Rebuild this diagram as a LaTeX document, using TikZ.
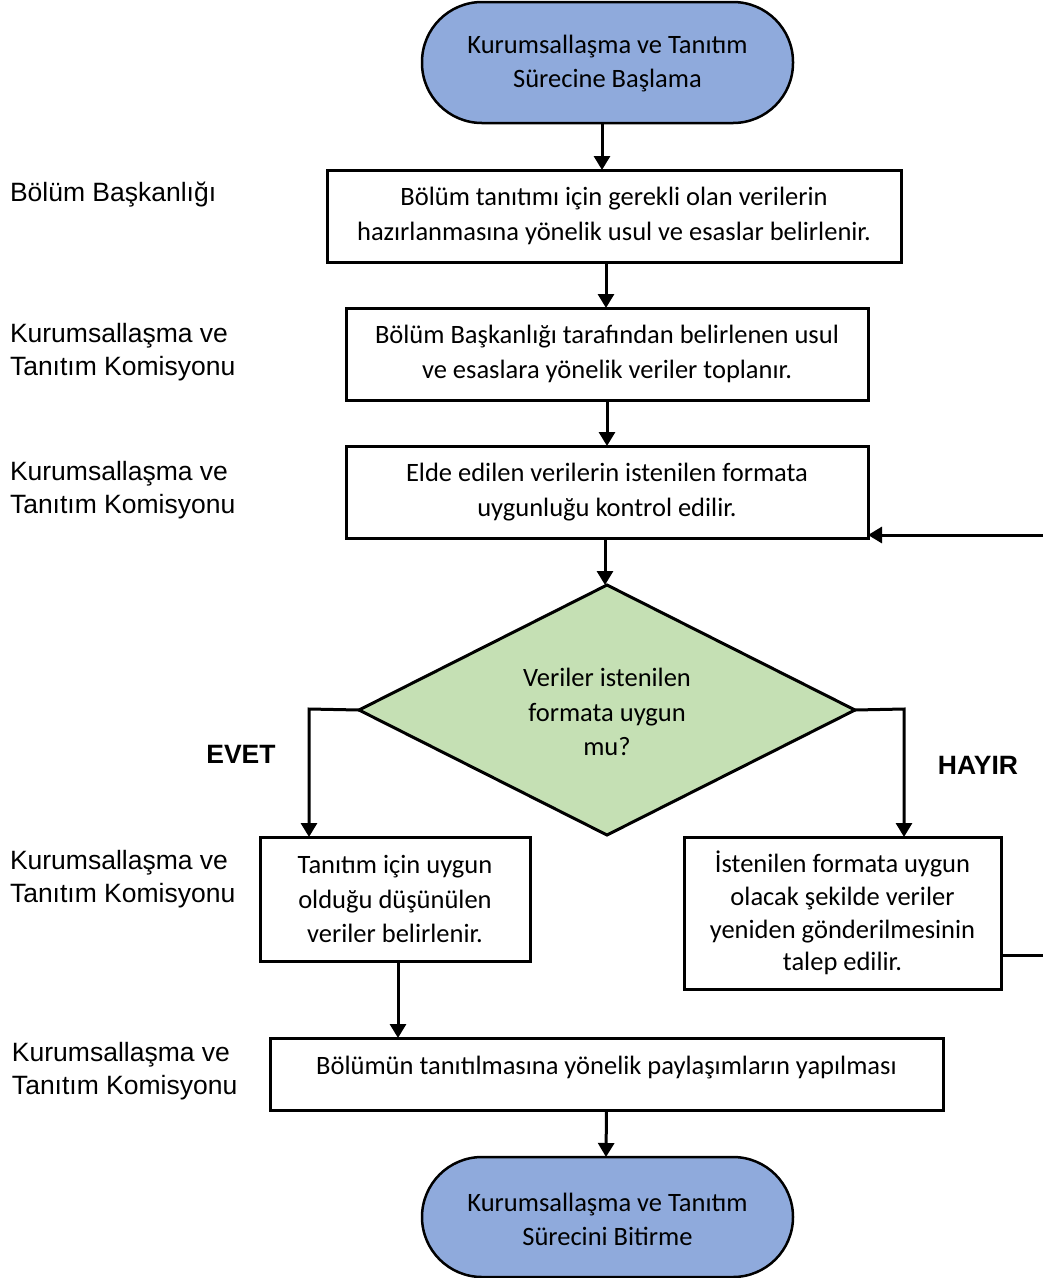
\documentclass[tikz,border=0pt]{standalone}
\usepackage{fontspec}
\setmainfont{Carlito}
\newfontfamily\arialfont{Liberation Sans}
\usetikzlibrary{shapes.geometric,arrows.meta,calc}
\definecolor{termblue}{HTML}{8FAADC}
\definecolor{decgreen}{HTML}{C5E0B4}
\begin{document}
\begin{tikzpicture}[x=1pt,y=-1pt,
  every node/.style={inner sep=0pt,outer sep=0pt},
  proc/.style={draw,line width=3pt,fill=white,align=center,font=\fontsize{26.5}{34.5}\selectfont},
  term/.style={draw,line width=2.5pt,fill=termblue,rounded corners=60pt,align=center,font=\fontsize{26.5}{34}\selectfont},
  lbl/.style={anchor=west,align=left,font=\arialfont\fontsize{26.5}{33}\selectfont},
  yn/.style={font=\arialfont\bfseries\fontsize{26.5}{33}\selectfont},
  conn/.style={line width=3pt,-{Triangle[length=14pt,width=16pt]}},
  plain/.style={line width=3pt}]
\useasboundingbox (0,0) rectangle (1043,1278);
% terminators
\draw[term] (422,2) rectangle (793,123);
\node[align=center,font=\fontsize{26.5}{34}\selectfont] (start) at (607.5,64) {Kurumsallaşma ve Tanıtım\\Sürecine Başlama};
\coordinate (startS) at (602,123);
\draw[term] (422,1157) rectangle (793,1277);
\node[align=center,font=\fontsize{26.5}{34}\selectfont] (end) at (607.5,1219) {Kurumsallaşma ve Tanıtım\\Sürecini Bitirme};
\coordinate (endN) at (606,1157);
% process boxes
\node[proc,minimum width=574pt,minimum height=92pt] (b1) at (614,216) {Bölüm tanıtımı için gerekli olan verilerin\\hazırlanmasına yönelik usul ve esaslar belirlenir.};
\node[proc,minimum width=522pt,minimum height=92pt] (b2) at (607,354) {Bölüm Başkanlığı tarafından belirlenen usul\\ve esaslara yönelik veriler toplanır.};
\node[proc,minimum width=522pt,minimum height=92pt] (b3) at (607,492) {Elde edilen verilerin istenilen formata\\uygunluğu kontrol edilir.};
\node[draw,line width=3pt,fill=decgreen,diamond,minimum width=496pt,minimum height=250pt,aspect=1.98] (d) at (607,710) {};
\node[align=center,font=\fontsize{26.5}{34.5}\selectfont] (dt) at (607,712) {Veriler istenilen\\formata uygun\\mu?};
\node[proc,minimum width=270pt,minimum height=124pt] (bl) at (395,899) {Tanıtım için uygun\\olduğu düşünülen\\veriler belirlenir.};
\node[proc,minimum width=317pt,minimum height=152pt,font=\fontsize{26.5}{32.7}\selectfont] (br) at (842.5,913) {İstenilen formata uygun\\olacak şekilde veriler\\yeniden gönderilmesinin\\talep edilir.};
\node[proc,minimum width=673pt,minimum height=72pt] (bf) at (606.5,1074) {\raisebox{6pt}[\height][\depth]{Bölümün tanıtılmasına yönelik paylaşımların yapılması}};
% left labels
\node[lbl] (l1) at (10,195) {Bölüm Başkanlığı};
\node[lbl] (l2) at (10,352) {Kurumsallaşma ve\\Tanıtım Komisyonu};
\node[lbl] (l3) at (10,490) {Kurumsallaşma ve\\Tanıtım Komisyonu};
\node[lbl] (l4) at (10,879) {Kurumsallaşma ve\\Tanıtım Komisyonu};
\node[lbl] (l5) at (12,1071) {Kurumsallaşma ve\\Tanıtım Komisyonu};
\node[yn] (evet) at (241,754) {EVET};
\node[yn] (hayir) at (978,765) {HAYIR};
% connectors
\draw[conn] (startS) -- (startS |- b1.north);
\draw[conn] (b1.south -| 606,0) -- (b2.north -| 606,0);
\draw[conn] (b2.south) -- (b3.north);
\draw[conn] (b3.south -| 605,0) -- (d.north -| 605,0);
\draw[conn] (d.west) -- (309,709) -- (309,709 |- bl.north);
\draw[conn] (d.east) -- (904,709) -- (904,709 |- br.north);
\coordinate (fb) at (1047,535);
\draw[plain] (br.east |- 0,955) -- (1047,955) -- (fb);
\draw[conn] (fb) -- (fb -| b3.east);
\draw[conn] (bl.south -| 398,0) -- (bf.north -| 398,0);
\draw[conn] (bf.south) -- (endN);
\end{tikzpicture}
\end{document}
